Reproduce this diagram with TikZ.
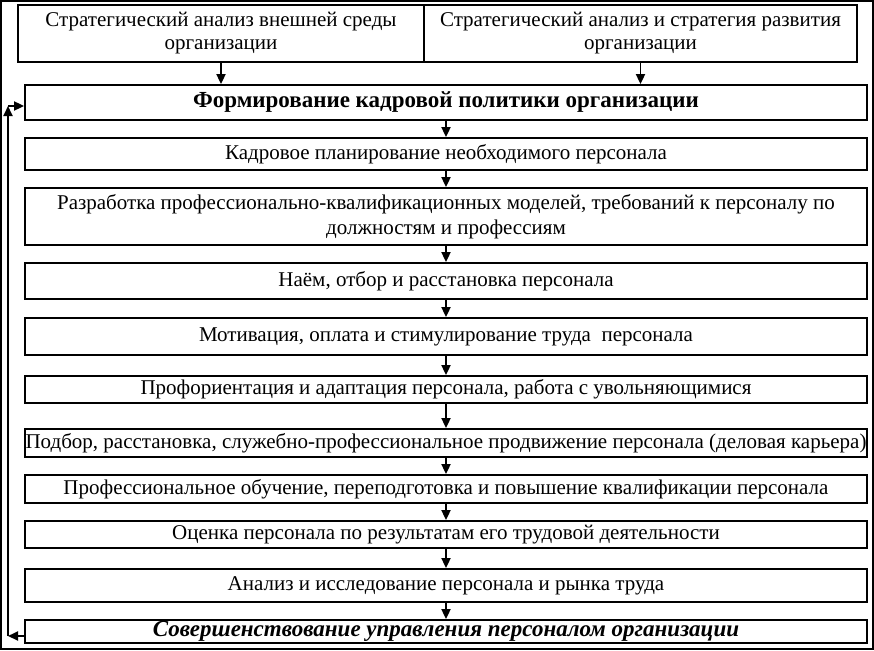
\documentclass[tikz,border=0pt]{standalone}
\usepackage{fontspec}
\setmainfont{Liberation Serif}
\usetikzlibrary{arrows.meta}
\begin{document}
\begin{tikzpicture}[x=1pt,y=-1pt,
  box/.style={draw,line width=1.8pt,inner sep=0pt,align=center,minimum width=842pt,
    font=\fontsize{21}{25}\selectfont},
  topbox/.style={draw,line width=1.8pt,inner sep=0pt,align=center,minimum height=57pt,
    font=\fontsize{21}{23}\selectfont},
  big/.style={font=\fontsize{23}{25}\selectfont\bfseries},
  arr/.style={line width=1.8pt,-{Triangle[width=9pt,length=10pt]}}]
\useasboundingbox (0,0) rectangle (874,650);
\draw[line width=2.2pt] (1.1,1.1) rectangle (872.9,648.9);
\node[topbox,minimum width=406pt] (t1) at (221,33.5) {Стратегический анализ внешней среды\\организации};
\node[topbox,minimum width=433pt] (t2) at (640.5,33.5) {Стратегический анализ и стратегия развития\\организации};
\node[box,big,minimum height=35pt] (b1) at (446,102.5) {Формирование кадровой политики организации};
\node[box,minimum height=32pt] (b2) at (446,154) {Кадровое планирование необходимого персонала};
\node[box,minimum height=57pt] (b3) at (446,216.5) {Разработка профессионально-квалификационных моделей, требований к персоналу по\\должностям и профессиям};
\node[box,minimum height=36pt] (b4) at (446,281) {Наём, отбор и расстановка персонала};
\node[box,minimum height=37pt] (b5) at (446,336.5) {Мотивация, оплата и стимулирование труда\ \ персонала};
\node[box,minimum height=27pt] (b6) at (446,389.5) {Профориентация и адаптация персонала, работа с увольняющимися};
\node[box,minimum height=28pt] (b7) at (446,443) {Подбор, расстановка, служебно-профессиональное продвижение персонала (деловая карьера)};
\node[box,minimum height=28pt] (b8) at (446,489) {Профессиональное обучение, переподготовка и повышение квалификации персонала};
\node[box,minimum height=27pt] (b9) at (446,534.5) {Оценка персонала по результатам его трудовой деятельности};
\node[box,minimum height=33pt] (b10) at (446,585.5) {Анализ и исследование персонала и рынка труда};
\node[box,big,minimum height=23pt] (b11) at (446,631.5) {\itshape Совершенствование управления персоналом организации};
\draw[arr] (t1.south) -- (t1.south |- b1.north);
\draw[arr] (t2.south) -- (t2.south |- b1.north);
\foreach \a/\b in {b1/b2,b2/b3,b3/b4,b4/b5,b5/b6,b6/b7,b7/b8,b8/b9,b9/b10,b10/b11}
  \draw[arr] (\a.south) -- (\b.north);
\coordinate (c1) at (8,636);
\coordinate (c2) at (8,106);
\draw[arr] ([yshift=-4.5pt]b11.west) -- (c1);
\draw[arr] (c1) -- (c2);
\draw[arr] (c2) -- (c2 -| b1.west);
\end{tikzpicture}
\end{document}
